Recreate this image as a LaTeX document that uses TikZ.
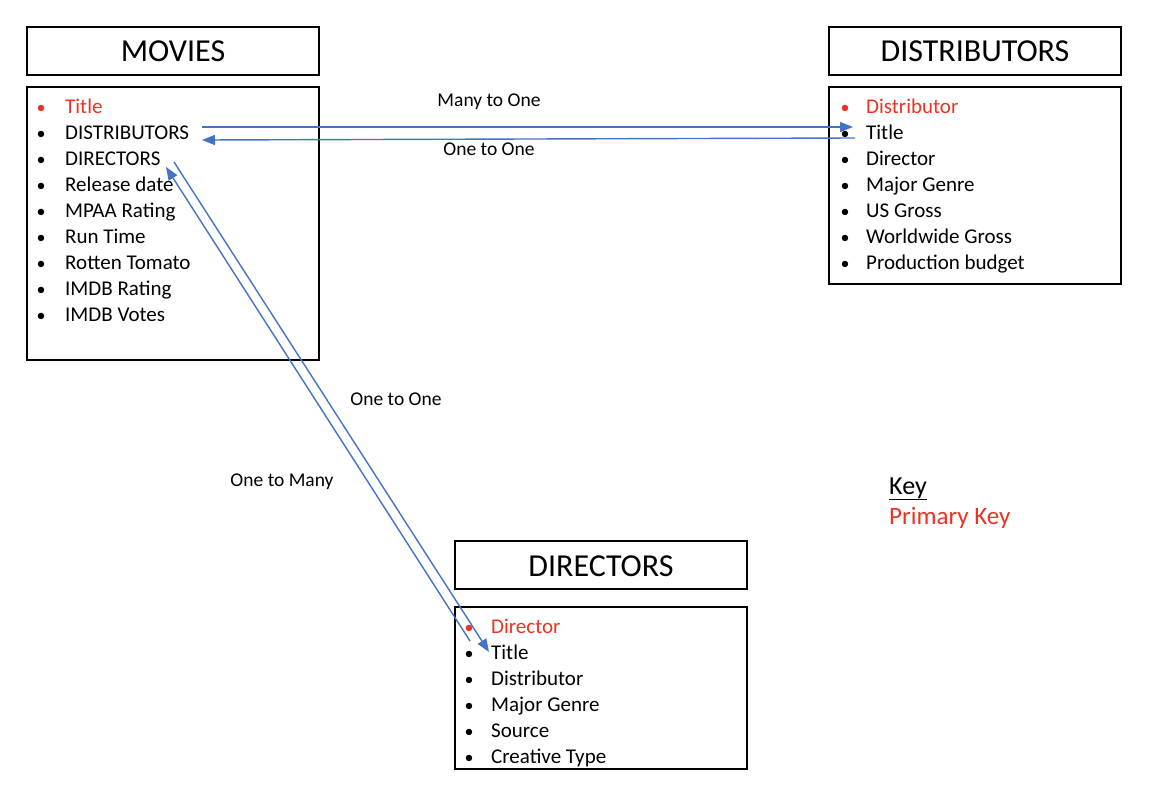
\documentclass[tikz,border=0pt]{standalone}
\usepackage{fontspec}
\setmainfont{Carlito}
\usetikzlibrary{arrows.meta}
\definecolor{pkred}{RGB}{234,51,35}
\definecolor{linkblue}{RGB}{68,114,196}

\begin{document}
\begin{tikzpicture}[x=1pt,y=-1pt,
    tablebox/.style={draw, line width=1.4pt},
    tabletitle/.style={font=\fontsize{32}{38}\selectfont},
    item/.style={anchor=base west, inner sep=0pt, font=\fontsize{21}{25}\selectfont},
    dot/.style={anchor=base, inner sep=0pt, font=\fontsize{18}{22}\selectfont},
    link/.style={draw=linkblue, line width=1.4pt, -{Triangle[length=13pt,width=10pt]}},
    linklabel/.style={inner sep=1pt, font=\fontsize{19.5}{23}\selectfont}]
  \useasboundingbox (0,0) rectangle (1160,796);

  % movies
  \draw[tablebox] (27,27) rectangle (319,75);
  \node[tabletitle] (moviesT) at (173,51) {MOVIES};
  \draw[tablebox] (27,87) rectangle (319,360);
  \node[dot, pkred] at (41,113) {•};
  \node[item, pkred] (m1) at (65,113) {Title};
  \node[dot] at (41,139) {•};
  \node[item] (m2) at (65,139) {DISTRIBUTORS};
  \node[dot] at (41,165) {•};
  \node[item] (m3) at (65,165) {DIRECTORS};
  \node[dot] at (41,191) {•};
  \node[item] (m4) at (65,191) {Release date};
  \node[dot] at (41,217) {•};
  \node[item] (m5) at (65,217) {MPAA Rating};
  \node[dot] at (41,243) {•};
  \node[item] (m6) at (65,243) {Run Time};
  \node[dot] at (41,269) {•};
  \node[item] (m7) at (65,269) {Rotten Tomato};
  \node[dot] at (41,295) {•};
  \node[item] (m8) at (65,295) {IMDB Rating};
  \node[dot] at (41,321) {•};
  \node[item] (m9) at (65,321) {IMDB Votes};

  % distributors
  \draw[tablebox] (829,27) rectangle (1121,75);
  \node[tabletitle] (distT) at (975,51) {DISTRIBUTORS};
  \draw[tablebox] (829,87) rectangle (1121,284);
  \node[dot, pkred] at (845,113) {•};
  \node[item, pkred] (d1) at (866,113) {Distributor};
  \node[dot] at (845,139) {•};
  \node[item] (d2) at (866,139) {Title};
  \node[dot] at (845,165) {•};
  \node[item] (d3) at (866,165) {Director};
  \node[dot] at (845,191) {•};
  \node[item] (d4) at (866,191) {Major Genre};
  \node[dot] at (845,217) {•};
  \node[item] (d5) at (866,217) {US Gross};
  \node[dot] at (845,243) {•};
  \node[item] (d6) at (866,243) {Worldwide Gross};
  \node[dot] at (845,269) {•};
  \node[item] (d7) at (866,269) {Production budget};

  % directors
  \draw[tablebox] (455,541) rectangle (747,589);
  \node[tabletitle] (dirT) at (601,566) {DIRECTORS};
  \draw[tablebox] (455,607) rectangle (747,769);
  \node[dot, pkred] at (469,633) {•};
  \node[item, pkred] (r1) at (491,633) {Director};
  \node[dot] at (469,659) {•};
  \node[item] (r2) at (491,659) {Title};
  \node[dot] at (469,685) {•};
  \node[item] (r3) at (491,685) {Distributor};
  \node[dot] at (469,711) {•};
  \node[item] (r4) at (491,711) {Major Genre};
  \node[dot] at (469,737) {•};
  \node[item] (r5) at (491,737) {Source};
  \node[dot] at (469,763) {•};
  \node[item] (r6) at (491,763) {Creative Type};

  % connector ends
  \coordinate (mdOut) at (202,127);
  \coordinate (mdIn) at (202,140);
  \coordinate (dtIn) at (853,127);
  \coordinate (dtOut) at (855,138);
  \coordinate (mrOut) at (174,162);
  \coordinate (mrIn) at (166,167);
  \coordinate (rtIn) at (489,652);
  \coordinate (rtOut) at (470,641);

  \draw[link] (mdOut) -- (dtIn);
  \draw[link] (dtOut) -- (mdIn);
  \draw[link] (mrOut) -- (rtIn);
  \draw[link] (rtOut) -- (mrIn);

  \node[linklabel] (lblA) at (489,102) {Many to One};
  \node[linklabel] (lblB) at (489,149) {One to One};
  \node[linklabel] (lblC) at (396,399) {One to One};
  \node[linklabel] (lblD) at (282,482) {One to Many};

  % key
  \node[item, font=\fontsize{26}{30}\selectfont] (keyT) at (889,494) {\underline{Key}};
  \node[item, pkred, font=\fontsize{25}{29}\selectfont] (keyP) at (889,524) {Primary Key};
\end{tikzpicture}
\end{document}
